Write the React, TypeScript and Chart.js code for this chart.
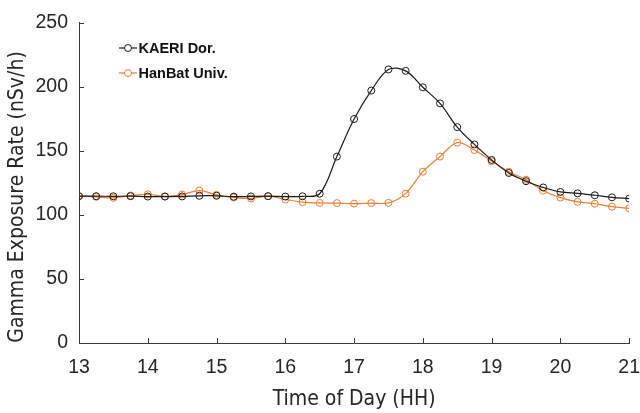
import { useEffect, useRef } from "react";
import { Chart, registerables } from "chart.js";

Chart.register(...registerables);

// Sampling times (hour of day, 15-minute steps)
const hours = [
  13, 13.25, 13.5, 13.75, 14, 14.25, 14.5, 14.75, 15, 15.25, 15.5, 15.75, 16,
  16.25, 16.5, 16.75, 17, 17.25, 17.5, 17.75, 18, 18.25, 18.5, 18.75, 19,
  19.25, 19.5, 19.75, 20, 20.25, 20.5, 20.75, 21,
];

// Gamma exposure rate, nSv/h
const kaeriDor = [
  114.6, 114.6, 114.5, 114.6, 114.3, 114.3, 114.4, 114.9, 114.9, 114.2, 114.4,
  114.6, 114.3, 114.5, 116.5, 145.5, 174.8, 197.0, 213.5, 212.4, 199.6, 187.0,
  168.5, 155.0, 142.9, 132.7, 126.3, 121.4, 117.9, 116.8, 115.3, 113.7, 112.7,
];
const hanbatUniv = [
  114.6, 114.1, 113.3, 115.1, 116.1, 114.4, 115.9, 119.0, 115.6, 113.6, 112.8,
  114.6, 112.0, 110.0, 109.3, 109.2, 108.8, 109.2, 109.4, 116.6, 133.7, 145.5,
  156.4, 150.6, 141.9, 133.7, 127.5, 118.9, 113.5, 110.2, 108.7, 106.4, 105.1,
];

const seriesLabels = ["KAERI Dor.", "HanBat Univ."];
const seriesColors = ["#1a1a1a", "#ED7D31"];
const xTickValues = [13, 14, 15, 16, 17, 18, 19, 20, 21];
const yTickValues = [0, 50, 100, 150, 200, 250];
const xTitle = "Time of Day (HH)";
const yTitle = "Gamma Exposure Rate (nSv/h)";

const TICK_FONT = '"Liberation Sans", Arial, sans-serif';
const TITLE_FONT = '"Liberation Sans Narrow", "DejaVu Sans Condensed", "Liberation Sans", sans-serif';
const TEXT_COLOR = "#262626";
const AXIS_COLOR = "#3a3a3a";

// Inward tick marks, rotated y-axis title and the in-plot legend
const decorations = {
  id: "decorations",
  afterDraw(chart: any) {
    const { ctx, chartArea, scales } = chart;
    const x = scales.x;
    const y = scales.y;
    ctx.save();
    ctx.strokeStyle = AXIS_COLOR;
    ctx.lineWidth = 1;
    ctx.beginPath();
    xTickValues.forEach((v) => {
      const px = Math.round(x.getPixelForValue(v)) + 0.5;
      ctx.moveTo(px, chartArea.bottom);
      ctx.lineTo(px, chartArea.bottom - 5);
    });
    yTickValues.forEach((v) => {
      const py = Math.round(y.getPixelForValue(v)) + 0.5;
      ctx.moveTo(chartArea.left, py);
      ctx.lineTo(chartArea.left + 5, py);
    });
    ctx.stroke();

    // y-axis title
    ctx.save();
    ctx.translate(23, 197);
    ctx.rotate(-Math.PI / 2);
    ctx.fillStyle = TEXT_COLOR;
    ctx.font = `21px ${TITLE_FONT}`;
    ctx.textAlign = "center";
    ctx.textBaseline = "alphabetic";
    ctx.fillText(yTitle, 0, 0);
    ctx.restore();

    // legend
    chart.data.datasets.forEach((ds: any, i: number) => {
      const ly = 48 + i * 25;
      ctx.strokeStyle = ds.borderColor;
      ctx.lineWidth = 1.2;
      ctx.beginPath();
      ctx.moveTo(119, ly);
      ctx.lineTo(137, ly);
      ctx.stroke();
      ctx.beginPath();
      ctx.arc(128, ly, 3.5, 0, Math.PI * 2);
      ctx.fillStyle = "#ffffff";
      ctx.fill();
      ctx.lineWidth = 1;
      ctx.stroke();
      ctx.fillStyle = "#111111";
      ctx.font = `bold 14.5px "Liberation Sans", Arial, sans-serif`;
      ctx.textAlign = "left";
      ctx.textBaseline = "middle";
      ctx.fillText(ds.label, 138.5, ly + 0.5);
    });
    ctx.restore();
  },
};

export default function App() {
  const canvasRef = useRef<HTMLCanvasElement | null>(null);

  useEffect(() => {
    const canvas = canvasRef.current;
    if (!canvas) return;
    const makeData = (vals: number[]) => hours.map((h, i) => ({ x: h, y: vals[i] }));
    const series = [kaeriDor, hanbatUniv];

    const chart = new Chart(canvas, {
      type: "line",
      data: {
        datasets: series.map((vals, i) => ({
          label: seriesLabels[i],
          data: makeData(vals),
          borderColor: seriesColors[i],
          backgroundColor: seriesColors[i],
          borderWidth: 1.2,
          tension: 0.35,
          pointRadius: 3.5,
          pointBorderWidth: 1,
          pointBorderColor: seriesColors[i],
          pointBackgroundColor: "rgba(255,255,255,0)",
          fill: false,
        })),
      },
      options: {
        animation: false,
        responsive: false,
        maintainAspectRatio: false,
        layout: { padding: { top: 18, right: 9, left: 0, bottom: 0 } },
        plugins: {
          legend: { display: false },
          tooltip: { enabled: false },
        },
        scales: {
          x: {
            type: "linear",
            min: 13,
            max: 21,
            afterFit: (s: any) => {
              s.height = 70;
            },
            afterBuildTicks: (s: any) => {
              s.ticks = xTickValues.map((v) => ({ value: v }));
            },
            ticks: {
              padding: 0,
              color: TEXT_COLOR,
              font: { family: TICK_FONT, size: 19.5 },
              maxRotation: 0,
            },
            // tick marks themselves are drawn inward by the plugin; this only spaces the labels
            grid: { display: false, drawTicks: true, tickLength: 13 },
            border: { display: true, color: AXIS_COLOR, width: 1 },
            title: {
              display: true,
              text: xTitle,
              color: TEXT_COLOR,
              font: { family: TITLE_FONT, size: 21 },
              padding: { top: 0, bottom: 1 },
            },
          },
          y: {
            type: "linear",
            min: 0,
            max: 250,
            afterFit: (s: any) => {
              s.width = 79;
            },
            afterBuildTicks: (s: any) => {
              s.ticks = yTickValues.map((v) => ({ value: v }));
            },
            ticks: {
              padding: 11,
              color: TEXT_COLOR,
              font: { family: TICK_FONT, size: 19.5 },
            },
            grid: { display: false, drawTicks: false },
            border: { display: true, color: AXIS_COLOR, width: 1 },
          },
        },
      },
      plugins: [decorations],
    });

    return () => chart.destroy();
  }, []);

  return (
    <div style={{ position: "fixed", left: 0, top: 0, width: 640, height: 413, background: "#ffffff" }}>
      <canvas ref={canvasRef} width={640} height={413} style={{ display: "block", width: 640, height: 413 }} />
    </div>
  );
}
